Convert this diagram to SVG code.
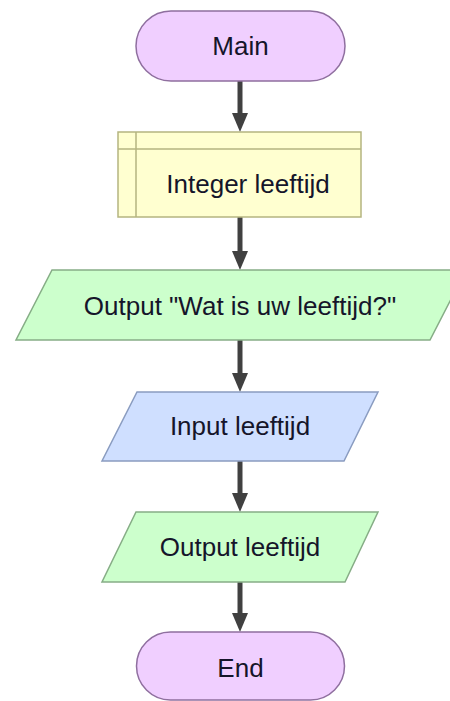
<svg xmlns="http://www.w3.org/2000/svg" width="450" height="701" viewBox="0 0 450 701">
<style>
.t{font-family:"Liberation Sans",Arial,sans-serif;font-size:26px;fill:#15152a;text-anchor:middle}
.term{fill:#f0cfff;stroke:#8f6f9f;stroke-width:1.5}
.decl{fill:#ffffd0;stroke:#b5b580;stroke-width:1.5}
.out{fill:#ccffcc;stroke:#86ad86;stroke-width:1.5}
.in{fill:#cfdfff;stroke:#8a9cc0;stroke-width:1.5}
.c{stroke:#404040;stroke-width:5;fill:none}
.h{fill:#404040}
</style>
<rect width="450" height="701" fill="#ffffff"/>
<g id="connectors">
<path class="c" d="M240,81 V113"/><path class="h" d="M232,113 H248 L240,132 Z"/>
<path class="c" d="M240,217 V251"/><path class="h" d="M232,251 H248 L240,270 Z"/>
<path class="c" d="M240,340 V373"/><path class="h" d="M232,373 H248 L240,392 Z"/>
<path class="c" d="M240,461 V493"/><path class="h" d="M232,493 H248 L240,512 Z"/>
<path class="c" d="M240,582 V613"/><path class="h" d="M232,613 H248 L240,632 Z"/>
</g>
<g id="main">
<rect class="term" x="136" y="11" width="209" height="70" rx="35" ry="35"/>
<text class="t" x="240.5" y="55">Main</text>
</g>
<g id="declare">
<rect class="decl" x="118" y="132" width="243" height="85"/>
<path d="M136,132 V217 M118,149 H361" stroke="#b5b580" stroke-width="1.5" fill="none"/>
<text class="t" x="248" y="193">Integer leeftijd</text>
</g>
<g id="output1">
<polygon class="out" points="52,270 466,270 430,340 16,340"/>
<text class="t" x="240" y="315">Output "Wat is uw leeftijd?"</text>
</g>
<g id="input">
<polygon class="in" points="137,392 378,392 344,461 102,461"/>
<text class="t" x="240" y="435">Input leeftijd</text>
</g>
<g id="output2">
<polygon class="out" points="136,512 378,512 345,582 102,582"/>
<text class="t" x="240" y="556">Output leeftijd</text>
</g>
<g id="end">
<rect class="term" x="136.5" y="632" width="208" height="68" rx="34" ry="34"/>
<text class="t" x="240.5" y="677">End</text>
</g>
</svg>
